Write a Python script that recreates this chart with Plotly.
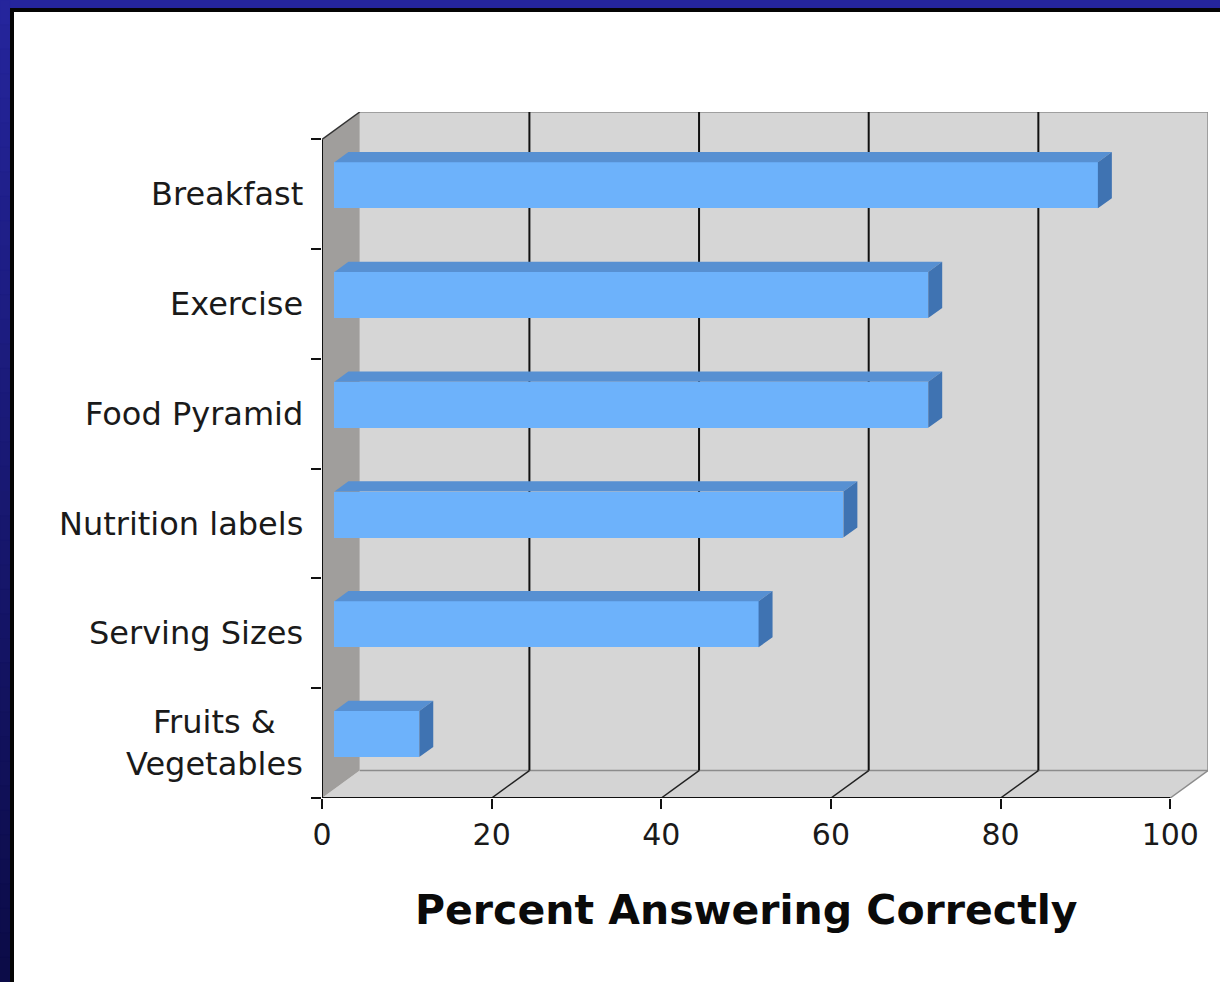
import plotly.graph_objects as go

# ---- data -------------------------------------------------------------
categories = ["Breakfast", "Exercise", "Food Pyramid", "Nutrition labels",
              "Serving Sizes", "Fruits &<br>Vegetables"]
percent_correct = [90, 70, 70, 60, 50, 10]
x_ticks = [0, 20, 40, 60, 80, 100]
x_tick_labels = ["0", "20", "40", "60", "80", "100"]
x_title = "Percent Answering Correctly"

# ---- figure geometry (pixels) ------------------------------------------
W, H = 1220, 982
L, R, T, B = 322, 12, 112, 184          # margins -> plot area
N = len(categories)
DX = 4.45                               # depth offset of the 3-D box, x units
DY = 0.25                               # depth offset of the 3-D box, band units
BAR_FRONT = 0.33                        # bar front face, fraction of box depth
BAR_DEPTH = 0.37                        # bar thickness, fraction of box depth
BAR_H = 0.42                            # bar height, fraction of a band

FRONT = "#6db2fb"
TOP = "#5790d2"
SIDE = "#3f73b2"
FONT = "DejaVu Sans"

plot_w = W - L - R
plot_h = H - T - B


def paper(xp, yp):
    """pixel position -> paper coordinates"""
    return (xp - L) / plot_w, (H - B - yp) / plot_h


fig = go.Figure()

# category centres, top to bottom
centres = [N - 0.5 - i for i in range(N)]
x0 = BAR_FRONT * DX
y_off = BAR_FRONT * DY
ddx, ddy = BAR_DEPTH * DX, BAR_DEPTH * DY

# front faces
fig.add_trace(go.Bar(
    orientation="h",
    y=[c + y_off for c in centres],
    x=percent_correct,
    base=x0,
    width=BAR_H,
    marker=dict(color=FRONT, line=dict(width=0)),
    hoverinfo="skip",
    showlegend=False,
))

# top and side faces
top_x, top_y, side_x, side_y = [], [], [], []
for c, v in zip(centres, percent_correct):
    yt = c + y_off + BAR_H / 2
    yb = c + y_off - BAR_H / 2
    xe = x0 + v
    top_x += [x0, xe, xe + ddx, x0 + ddx, x0, None]
    top_y += [yt, yt, yt + ddy, yt + ddy, yt, None]
    side_x += [xe, xe, xe + ddx, xe + ddx, xe, None]
    side_y += [yb, yt, yt + ddy, yb + ddy, yb, None]

fig.add_trace(go.Scatter(x=top_x, y=top_y, mode="lines", fill="toself",
                         fillcolor=TOP, line=dict(width=0, color=TOP),
                         hoverinfo="skip", showlegend=False))
fig.add_trace(go.Scatter(x=side_x, y=side_y, mode="lines", fill="toself",
                         fillcolor=SIDE, line=dict(width=0, color=SIDE),
                         hoverinfo="skip", showlegend=False))

xmax = x_ticks[-1]
shapes = []


def poly(pts, fill, line_color=None, width=0):
    path = "M " + " L ".join(f"{a},{b}" for a, b in pts) + " Z"
    return dict(type="path", path=path, xref="x", yref="y", layer="below",
                fillcolor=fill, line=dict(width=width, color=line_color or fill))


def seg(xa, ya, xb, yb, color, width):
    return dict(type="line", x0=xa, y0=ya, x1=xb, y1=yb, xref="x", yref="y",
                layer="below", line=dict(color=color, width=width))


# walls and floor
shapes.append(poly([(DX, DY), (xmax + DX, DY), (xmax + DX, N + DY), (DX, N + DY)], "#d6d6d6"))
shapes.append(poly([(0, 0), (xmax, 0), (xmax + DX, DY), (DX, DY)], "#d4d4d4"))
shapes.append(poly([(0, 0), (DX, DY), (DX, N + DY), (0, N)], "#a09e9c"))

# back wall outline
shapes.append(seg(DX, N + DY, xmax + DX, N + DY, "#8c8c8c", 1.5))
shapes.append(seg(xmax + DX, DY, xmax + DX, N + DY, "#8c8c8c", 1.5))
shapes.append(seg(DX, DY, xmax + DX, DY, "#8c8c8c", 1.5))

# gridlines on the back wall and their floor diagonals
for g in x_ticks[1:-1]:
    shapes.append(seg(g + DX, DY, g + DX, N + DY, "#111111", 2))
    shapes.append(seg(g, 0, g + DX, DY, "#222222", 1.5))
shapes.append(seg(xmax, 0, xmax + DX, DY, "#8c8c8c", 1.5))

# axis lines
shapes.append(seg(0, 0, xmax, 0, "#111111", 2))
shapes.append(seg(0, 0, 0, N, "#111111", 2))
shapes.append(seg(0, N, DX, N + DY, "#333333", 1.5))

# frame: navy band along top and left, with a dark inner rule
navy_top = "#25259c"
fx0, fy0 = paper(0, 0)
fx1, fy1 = paper(W, 8)
shapes.append(dict(type="rect", xref="paper", yref="paper", x0=fx0, y0=fy0, x1=fx1, y1=fy1,
                   fillcolor=navy_top, line=dict(width=0), layer="above"))
steps = 40
band = H / steps
for i in range(steps):
    t = i / (steps - 1)
    r = int(37 + (12 - 37) * t)
    gch = int(37 + (12 - 37) * t)
    b = int(156 + (72 - 156) * t)
    ya = i * band
    yb = (i + 1) * band + 1.5
    ax0, ay0 = paper(0, ya)
    ax1, ay1 = paper(10, min(yb, H))
    col = f"rgb({r},{gch},{b})"
    shapes.append(dict(type="rect", xref="paper", yref="paper", x0=ax0, y0=ay0, x1=ax1, y1=ay1,
                       fillcolor=col, line=dict(width=0.5, color=col), layer="above"))
bx0, by0 = paper(10, 8)
bx1, by1 = paper(W, 12)
shapes.append(dict(type="rect", xref="paper", yref="paper", x0=bx0, y0=by0, x1=bx1, y1=by1,
                   fillcolor="#050505", line=dict(width=0), layer="above"))
cx0, cy0 = paper(10, 8)
cx1, cy1 = paper(14, H)
shapes.append(dict(type="rect", xref="paper", yref="paper", x0=cx0, y0=cy0, x1=cx1, y1=cy1,
                   fillcolor="#050505", line=dict(width=0), layer="above"))

# category labels
annotations = []
for c, name in zip(centres, categories):
    annotations.append(dict(x=0, y=c, xref="x", yref="y", text=name, showarrow=False,
                            xanchor="right", yanchor="middle", align="center", xshift=-17,
                            font=dict(family=FONT, size=32, color="#1a1a1a")))

# axis title
tx, ty = paper(0, 910)
annotations.append(dict(x=xmax / 2, y=ty, xref="x", yref="paper", text=f"<b>{x_title}</b>",
                        showarrow=False, xanchor="center", yanchor="middle",
                        font=dict(family=FONT, size=41, color="#0a0a0a")))

fig.update_layout(
    width=W, height=H,
    margin=dict(l=L, r=R, t=T, b=B, pad=0),
    paper_bgcolor="white", plot_bgcolor="white",
    shapes=shapes, annotations=annotations,
    bargap=0, showlegend=False,
    xaxis=dict(range=[0, xmax + DX], tickmode="array", tickvals=x_ticks, ticktext=x_tick_labels,
               ticks="outside", ticklen=10, tickwidth=2, tickcolor="#111111",
               showgrid=False, zeroline=False, showline=False, fixedrange=True,
               tickfont=dict(family=FONT, size=30, color="#1a1a1a")),
    yaxis=dict(range=[0, N + DY], tickmode="array", tickvals=list(range(N + 1)),
               ticks="outside", ticklen=10, tickwidth=2, tickcolor="#111111",
               showticklabels=False, showgrid=False, zeroline=False, showline=False,
               fixedrange=True),
)

fig.write_html("out.html", config={"displayModeBar": False})
